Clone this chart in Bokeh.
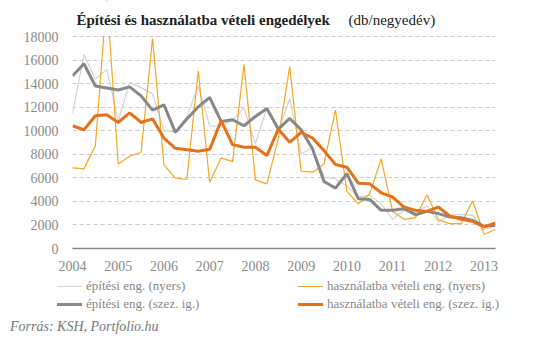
from bokeh.plotting import figure
from bokeh.models import Range1d, FixedTicker, Label, BoxAnnotation, Div
from bokeh.layouts import column
from bokeh.embed import file_html
from bokeh.resources import INLINE

# Quarterly data 2004 Q1 .. 2013 Q2 (db/negyedév)
quarter = list(range(38))
year_labels = ["2004", "2005", "2006", "2007", "2008", "2009", "2010", "2011", "2012", "2013"]

epitesi_nyers = [11410, 16480, 14370, 15210, 10850, 14080, 13660, 13150, 10000, 9920,
                 11200, 13800, 10420, 10400, 10900, 11920, 8900, 11920, 10000, 12700,
                 8030, 8590, 6060, 5920, 5300, 4370, 4510, 3800, 2480, 3240,
                 3100, 3610, 2250, 2820, 2900, 2820, 1610, 1890]

epitesi_szez = [14650, 15690, 13800, 13630, 13460, 13720, 12960, 11750, 12200, 9860,
                10990, 12030, 12820, 10790, 10930, 10420, 11210, 11890, 10140, 11040,
                10080, 8450, 5690, 5130, 6350, 4230, 4170, 3240, 3240, 3380,
                2870, 3150, 2960, 2680, 2620, 2390, 1890, 1970]

hasznalatba_nyers = [6850, 6760, 8730, 21500, 7180, 7830, 8170, 17830, 7100, 5970,
                     5860, 15070, 5630, 7690, 7380, 15630, 5830, 5490, 9300, 15440,
                     6560, 6480, 7180, 11750, 4850, 3800, 4650, 7610, 3150, 2480,
                     2620, 4560, 2450, 2110, 2110, 4030, 1210, 1610]

hasznalatba_szez = [10420, 10080, 11270, 11350, 10700, 11520, 10700, 11010, 9380, 8510,
                    8390, 8250, 8420, 10850, 8820, 8590, 8590, 7890, 10140, 9010,
                    9860, 9380, 8310, 7130, 6900, 5550, 5490, 4730, 4370, 3520,
                    3240, 3150, 3520, 2760, 2480, 2310, 1830, 2170]

y_ticks = [0, 2000, 4000, 6000, 8000, 10000, 12000, 14000, 16000, 18000]
y_max = 18000

series_names = ["építési eng. (nyers)", "használatba vételi eng. (nyers)",
                "építési eng. (szez. ig.)", "használatba vételi eng. (szez. ig.)"]
c_light_gray = "#d3d3d3"
c_raw_orange = "#f5a623"
c_gray = "#888888"
c_orange = "#e5711a"

SERIF = "Liberation Serif"

# layout geometry (pixels)
W = 533
main_h = 274
left, right, bottom = 72, 38, 26
grid_top_px = 36                     # where the 18000 line sits
frame_h = main_h - bottom            # frame reaches the top edge (title lives inside it)
y_top = y_max * frame_h / (frame_h - grid_top_px)

p = figure(width=W, height=main_h, output_backend="svg", toolbar_location=None, title=None,
           x_range=Range1d(0, 37), y_range=Range1d(0, y_top),
           min_border_left=left, min_border_right=right, min_border_top=0,
           min_border_bottom=bottom)
p.outline_line_color = None

p.xgrid.grid_line_color = None
p.ygrid.grid_line_color = "#cccccc"
p.ygrid.grid_line_dash = "4 3"
p.ygrid.grid_line_width = 1

p.yaxis.ticker = FixedTicker(ticks=y_ticks)
p.yaxis.axis_line_color = None
p.yaxis.major_tick_line_color = None
p.yaxis.minor_tick_line_color = None
p.yaxis.major_label_standoff = 8
p.yaxis.major_label_text_font = SERIF
p.yaxis.major_label_text_font_size = "14px"
p.yaxis.major_label_text_color = "#8a8a8a"

xt = [i * 4 for i in range(len(year_labels))]
p.xaxis.ticker = FixedTicker(ticks=xt)
p.xaxis.major_label_overrides = {t: lab for t, lab in zip(xt, year_labels)}
p.xaxis.axis_line_color = "#888888"
p.xaxis.axis_line_width = 1.5
p.xaxis.major_tick_line_color = None
p.xaxis.minor_tick_line_color = None
p.xaxis.major_label_standoff = 6
p.xaxis.major_label_text_font = SERIF
p.xaxis.major_label_text_font_size = "14px"
p.xaxis.major_label_text_color = "#8a8a8a"

p.line(quarter, epitesi_nyers, line_color=c_light_gray, line_width=1.2)
p.line(quarter, hasznalatba_nyers, line_color=c_raw_orange, line_width=1.2)
p.line(quarter, epitesi_szez, line_color=c_gray, line_width=3)
p.line(quarter, hasznalatba_szez, line_color=c_orange, line_width=3)

# the chart is cut at the 18000 line: mask the strip above it
p.add_layout(BoxAnnotation(bottom=y_max + 40, fill_color="white", fill_alpha=1,
                           line_color=None))

# title (inside the frame's top strip)
p.add_layout(Label(x=4, y=frame_h - 19.5, x_units="screen", y_units="screen",
                   text="Építési és használatba vételi engedélyek",
                   text_font=SERIF, text_font_style="bold",
                   text_font_size="15px", text_color="#222222", text_baseline="alphabetic"))
p.add_layout(Label(x=276, y=frame_h - 19.5, x_units="screen", y_units="screen",
                   text="(db/negyedév)",
                   text_font=SERIF, text_font_size="15px",
                   text_color="#222222", text_baseline="alphabetic"))

# legend + source strip
keys = [(series_names[0], c_light_gray, 1, 57, 12),
        (series_names[2], c_gray, 3, 57, 30),
        (series_names[1], c_raw_orange, 1, 298, 12),
        (series_names[3], c_orange, 3, 298, 30)]
parts = []
for name, col, thick, x0, cy in keys:
    parts.append(
        f'<div style="position:absolute;left:{x0}px;top:{cy - thick / 2}px;width:25px;'
        f'height:{thick}px;background:{col}"></div>'
        f'<div style="position:absolute;left:{x0 + 29}px;top:{cy - 8}px;line-height:16px;'
        f'white-space:nowrap">{name}</div>')
parts.append('<div style="position:absolute;left:10px;top:45px;line-height:16px;'
             'font-style:italic;font-size:14px;color:#777777;white-space:nowrap">'
             'Forrás: KSH, Portfolio.hu</div>')
html = ('<div style="position:relative;width:533px;height:71px;'
        "font-family:'Liberation Serif';font-size:13px;color:#888888\">"
        + "".join(parts) + '</div>')
legend_div = Div(text=html, width=W, height=71, margin=(0, 0, 0, 0))

layout = column(p, legend_div, spacing=0)
open("out.html", "w").write(file_html(layout, INLINE))
